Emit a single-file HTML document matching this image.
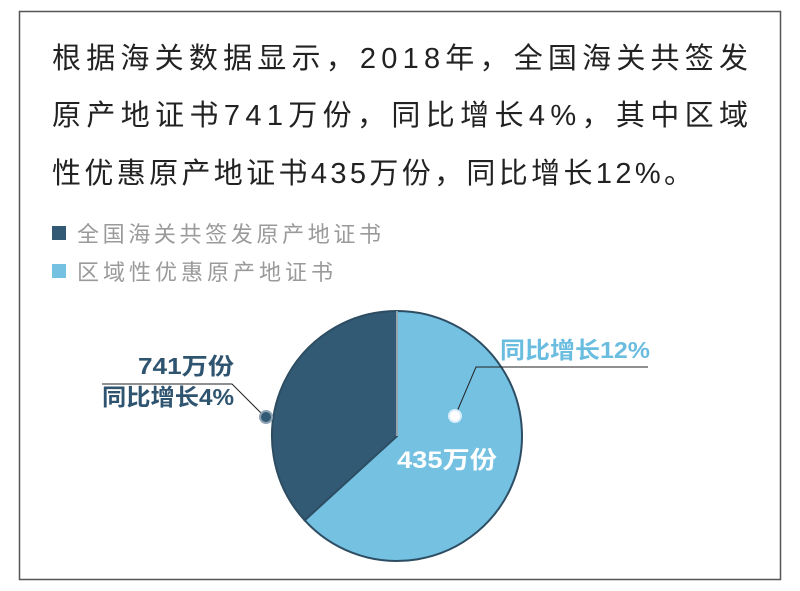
<!DOCTYPE html>
<html><head><meta charset="utf-8"><style>
html,body{margin:0;padding:0;background:#fff;}
svg{display:block;font-family:"Liberation Sans","Noto Sans CJK SC",sans-serif;}
</style></head><body>
<svg width="800" height="591" viewBox="0 0 800 591">
<rect x="19.5" y="11.5" width="761" height="568" fill="#fff" stroke="#555" stroke-width="1.5"/>
<g font-size="29" fill="#222">
<text x="52" y="68" textLength="696" lengthAdjust="spacing">根据海关数据显示，2018年，全国海关共签发</text>
<text x="52" y="125" textLength="696" lengthAdjust="spacing">原产地证书741万份，同比增长4%，其中区域</text>
<text x="52" y="183" textLength="641" lengthAdjust="spacing">性优惠原产地证书435万份，同比增长12%。</text>
</g>
<rect x="52" y="226" width="14" height="14" fill="#335a75"/>
<text x="77" y="242" font-size="22" fill="#9a9a9a" textLength="304" lengthAdjust="spacing">全国海关共签发原产地证书</text>
<rect x="52" y="264" width="14" height="14" fill="#74c1e1"/>
<text x="77" y="280" font-size="22" fill="#9a9a9a" textLength="256" lengthAdjust="spacing">区域性优惠原产地证书</text>
<path d="M397,436 L397,311 A125,125 0 1 1 304.7,520.3 Z" fill="#74c1e1" stroke="#2d4d63" stroke-width="2"/>
<path d="M397,436 L304.7,520.3 A125,125 0 0 1 397,311 Z" fill="#335a75" stroke="#2d4d63" stroke-width="2"/>
<line x1="397" y1="311" x2="397" y2="436" stroke="#fff" stroke-width="1"/>
<g font-weight="bold" fill="#2f5470" font-size="23">
<text x="138" y="374" textLength="96" lengthAdjust="spacingAndGlyphs">741万份</text>
<text x="102" y="405" textLength="132" lengthAdjust="spacingAndGlyphs">同比增长4%</text>
</g>
<polyline points="102,384 232,384 264,416" fill="none" stroke="#222" stroke-width="1"/>
<circle cx="266" cy="417" r="6" fill="#335a75" stroke="#8fa3b3" stroke-width="2"/>
<text x="500" y="358" font-size="23" font-weight="bold" fill="#6bbde0" textLength="150" lengthAdjust="spacingAndGlyphs">同比增长12%</text>
<polyline points="648,367 476,367 456,414" fill="none" stroke="#222" stroke-width="1"/>
<circle cx="455" cy="416" r="6" fill="#fff" stroke="#d8eef8" stroke-width="2"/>
<text x="397" y="468" font-size="24" font-weight="bold" fill="#fff" textLength="100" lengthAdjust="spacingAndGlyphs">435万份</text>
</svg>
</body></html>
